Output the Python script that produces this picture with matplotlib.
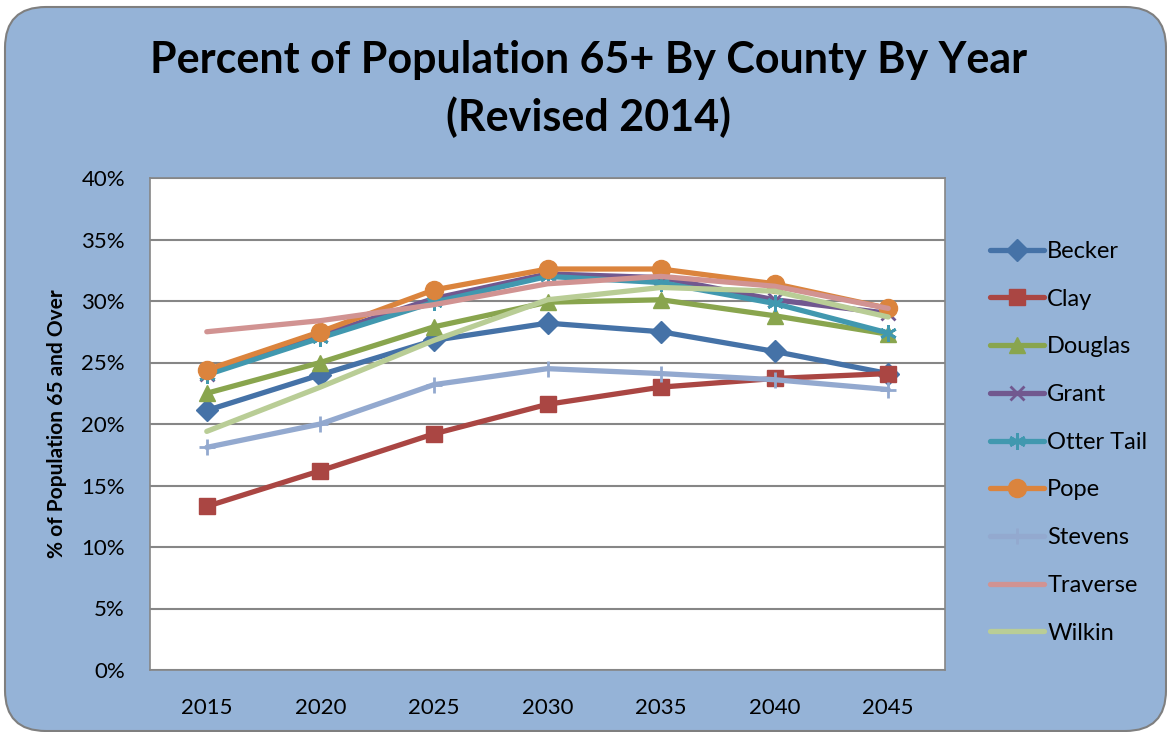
import matplotlib.pyplot as plt
from matplotlib.patches import FancyBboxPatch
from matplotlib.ticker import FuncFormatter

plt.rcParams['font.family'] = ['Lato', 'DejaVu Sans']

years = ['2015', '2020', '2025', '2030', '2035', '2040', '2045']

becker = [21.1, 24.0, 26.8, 28.2, 27.5, 25.9, 24.1]
clay = [13.3, 16.2, 19.2, 21.6, 23.0, 23.7, 24.1]
douglas = [22.5, 25.0, 27.9, 29.9, 30.1, 28.8, 27.3]
grant = [24.1, 27.2, 30.2, 32.2, 31.9, 30.1, 29.0]
otter_tail = [24.0, 27.0, 29.9, 32.0, 31.5, 29.8, 27.4]
pope = [24.4, 27.5, 30.9, 32.6, 32.6, 31.4, 29.4]
stevens = [18.1, 20.0, 23.2, 24.5, 24.1, 23.6, 22.8]
traverse = [27.5, 28.4, 29.7, 31.4, 32.0, 31.2, 29.4]
wilkin = [19.4, 23.0, 26.8, 30.1, 31.1, 30.8, 28.7]

series = [
    ('Becker', becker, '#4572A7', 'D', 11),
    ('Clay', clay, '#AA4643', 's', 11),
    ('Douglas', douglas, '#89A54E', '^', 12),
    ('Grant', grant, '#71588F', 'x', 10),
    ('Otter Tail', otter_tail, '#4198AF', (6, 2, 0), 12),
    ('Pope', pope, '#DB843D', 'o', 13),
    ('Stevens', stevens, '#93A9CF', '+', 12),
    ('Traverse', traverse, '#D19392', None, 0),
    ('Wilkin', wilkin, '#B9CD96', None, 0),
]

fig = plt.figure(figsize=(11.67, 7.32), dpi=100)
fig.patch.set_facecolor('white')

# rounded chart background
bg = FancyBboxPatch((5 / 1167, 1 / 732), 1161 / 1167, 724 / 732,
                    boxstyle='round,pad=0,rounding_size=0.035',
                    transform=fig.transFigure, facecolor='#95B3D7',
                    edgecolor='#7f7f7f', linewidth=1.5, mutation_aspect=1167 / 732,
                    zorder=-10)
fig.patches.append(bg)

ax = fig.add_axes([150 / 1167, 62 / 732, 795 / 1167, 492 / 732])
ax.set_zorder(1)
ax.set_facecolor('white')

x = list(range(len(years)))
for name, vals, color, marker, ms in series:
    ax.plot(x, vals, color=color, lw=3.8, marker=marker, markersize=ms,
            markeredgewidth=2 if marker in ('x', '+', (6, 2, 0)) else 1,
            markeredgecolor=color, label=name, solid_capstyle='round')

ax.set_xlim(-0.5, 6.5)
ax.set_ylim(0, 40)
ax.set_yticks(range(0, 41, 5))
ax.yaxis.set_major_formatter(FuncFormatter(lambda v, p: f'{int(v)}%'))
ax.set_xticks(x)
ax.set_xticklabels(years)
ax.grid(axis='y', color='#868686', lw=1.5)
ax.set_axisbelow(True)
ax.tick_params(axis='both', length=0, labelsize=16)
ax.tick_params(axis='x', pad=20)
ax.tick_params(axis='y', pad=18)
for s in ax.spines.values():
    s.set_color('#868686')
    s.set_linewidth(1.2)

ax.set_ylabel('% of Population 65 and Over', fontsize=15, fontweight='bold', labelpad=10)

fig.text(0.504, 0.918, 'Percent of Population 65+ By County By Year', ha='center', va='center',
         fontsize=31, fontweight='bold')
fig.text(0.504, 0.84, '(Revised 2014)', ha='center', va='center',
         fontsize=31, fontweight='bold')

leg = ax.legend(loc='upper left', bbox_to_anchor=(1.03, 0.915), frameon=False,
                fontsize=17, labelspacing=1.13, handlelength=2.3, handletextpad=0.12)

fig.savefig('out.png', dpi=100)
